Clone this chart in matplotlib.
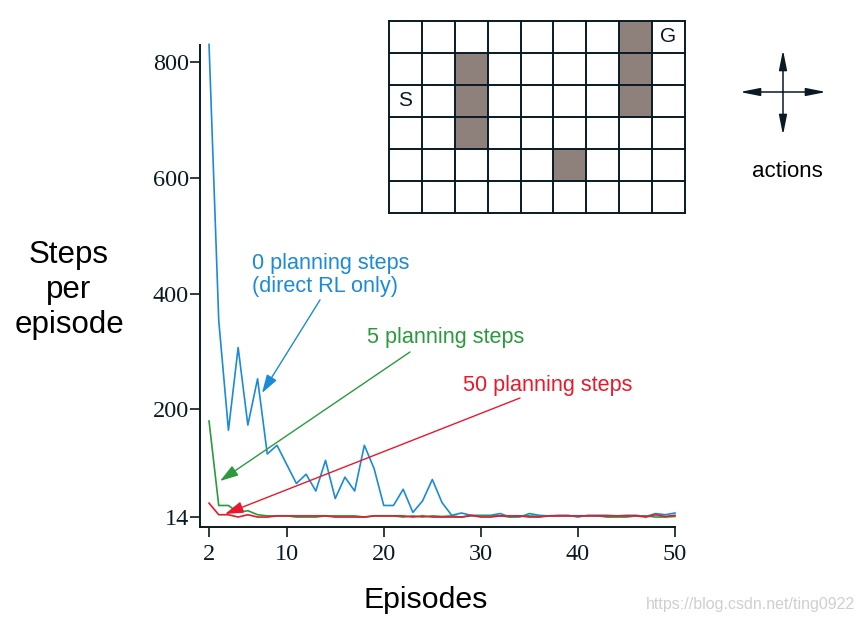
import matplotlib
matplotlib.use("Agg")
import matplotlib.pyplot as plt
from matplotlib.patches import Rectangle

# episodes et pas par episode
episodes = list(range(2, 51))
steps_0 = [831, 354, 164, 307, 173, 253, 123, 138, 105, 72,
           88, 59, 112, 46, 83, 59, 138, 98, 34, 34,
           62, 22, 42, 79, 39, 17, 21, 17, 17, 17,
           20, 14, 14, 20, 17, 16, 17, 17, 14, 17,
           17, 17, 16, 17, 17, 15, 20, 18, 21]
steps_5 = [180, 34, 34, 22, 25, 18, 16, 16, 16, 14,
           14, 14, 16, 16, 16, 16, 14, 16, 16, 16,
           14, 16, 14, 16, 15, 16, 14, 16, 16, 16,
           16, 14, 16, 16, 15, 16, 16, 16, 16, 16,
           16, 14, 14, 14, 16, 16, 14, 14, 15]
steps_50 = [38, 18, 18, 14, 18, 14, 14, 16, 16, 16,
            16, 16, 16, 14, 14, 14, 14, 16, 16, 16,
            16, 14, 16, 14, 14, 14, 14, 17, 14, 14,
            16, 16, 16, 14, 14, 16, 16, 16, 16, 16,
            16, 16, 16, 16, 16, 14, 18, 15, 17]
yticks = [14, 200, 400, 600, 800]
xticks = [2, 10, 20, 30, 40, 50]

# labyrinthe
n_cols, n_rows = 9, 6
obstacles = [(2, 1), (2, 2), (2, 3), (7, 0), (7, 1), (7, 2), (5, 4)]

blue = '#1b8ad8'
green = '#2a9a3c'
red = '#e8192c'
dark = '#0a1a24'

W, H = 862, 623
fig = plt.figure(figsize=(W / 100, H / 100), dpi=100)

def fx(x):
    return x / W

def fy(y):
    return 1 - y / H

ax = fig.add_axes([fx(200), fy(527), fx(675) - fx(200), fy(45) - fy(527)])
ax.plot(episodes, steps_0, color=blue, lw=1.2, clip_on=False)
ax.plot(episodes, steps_5, color=green, lw=1.2, clip_on=False)
ax.plot(episodes, steps_50, color=red, lw=1.2, clip_on=False)
ax.set_xlim(1.07, 50)
ax.set_ylim(-3.2, 830)
ax.set_xticks(xticks)
ax.set_yticks(yticks)
for s in ['top', 'right']:
    ax.spines[s].set_visible(False)
for s in ['left', 'bottom']:
    ax.spines[s].set_color(dark)
    ax.spines[s].set_linewidth(1.4)
ax.tick_params(colors=dark, width=1.2, length=7, direction='out')
ax.tick_params(axis='x', pad=5)
ax.tick_params(axis='y', pad=1)
for lab in ax.get_xticklabels() + ax.get_yticklabels():
    lab.set_fontfamily('Liberation Serif')
    lab.set_fontsize(17.5)
    lab.set_color(dark)

fig.text(fx(69), fy(290), 'Steps\nper\nepisode', ha='center', va='center',
         fontsize=22.5, family='Liberation Sans', linespacing=1.22, color='black')
fig.text(fx(426), fy(600), 'Episodes', ha='center', va='center',
         fontsize=21.8, family='Liberation Sans', color='black')

# annotations
fig.text(fx(252), fy(275), '0 planning steps\n(direct RL only)', ha='left', va='center',
         fontsize=15.6, family='Liberation Sans', color=blue, linespacing=1.15)
fig.text(fx(367), fy(337), '5 planning steps', ha='left', va='center',
         fontsize=15.6, family='Liberation Sans', color=green)
fig.text(fx(463), fy(386), '50 planning steps', ha='left', va='center',
         fontsize=15.6, family='Liberation Sans', color=red)

def arrow(x0, y0, x1, y1, c, style='-|>,head_length=0.8,head_width=0.25', ms=14, lw=1.0):
    fig.add_artist(matplotlib.patches.FancyArrowPatch(
        (fx(x0), fy(y0)), (fx(x1), fy(y1)), transform=fig.transFigure,
        arrowstyle=style, mutation_scale=ms, color=c, lw=lw, shrinkA=0, shrinkB=0))

arrow(320, 300, 262, 393, blue)
arrow(410, 352, 220, 481, green)
arrow(520, 398, 225, 514, red)

# grille du labyrinthe
gax = fig.add_axes([fx(389), fy(213), fx(685) - fx(389), fy(21) - fy(213)])
gax.set_xlim(0, n_cols)
gax.set_ylim(n_rows, 0)
gax.axis('off')
for (c, r) in obstacles:
    gax.add_patch(Rectangle((c, r), 1, 1, facecolor='#8e807b', edgecolor='none'))
for i in range(n_cols + 1):
    gax.plot([i, i], [0, n_rows], color=dark, lw=1.4, clip_on=False)
for j in range(n_rows + 1):
    gax.plot([0, n_cols], [j, j], color=dark, lw=1.4, clip_on=False)
gax.text(0.5, 2.5, 'S', ha='center', va='center', fontsize=15, family='Liberation Sans', color=dark)
gax.text(8.5, 0.5, 'G', ha='center', va='center', fontsize=15, family='Liberation Sans', color=dark)

# actions
cs = '-|>,head_length=1.0,head_width=0.2'
arrow(783, 92, 740, 92, dark, cs, 12, 1.1)
arrow(783, 92, 826, 92, dark, cs, 12, 1.1)
arrow(783, 92, 783, 50, dark, cs, 12, 1.1)
arrow(783, 92, 783, 135, dark, cs, 12, 1.1)
fig.text(fx(787), fy(171), 'actions', ha='center', va='center',
         fontsize=16, family='Liberation Sans', color='black')

fig.text(fx(855), fy(605), 'https://blog.csdn.net/ting0922', ha='right', va='center',
         fontsize=11.5, family='Liberation Sans', color='#cfcfcf')

fig.savefig('out.png', dpi=100)
